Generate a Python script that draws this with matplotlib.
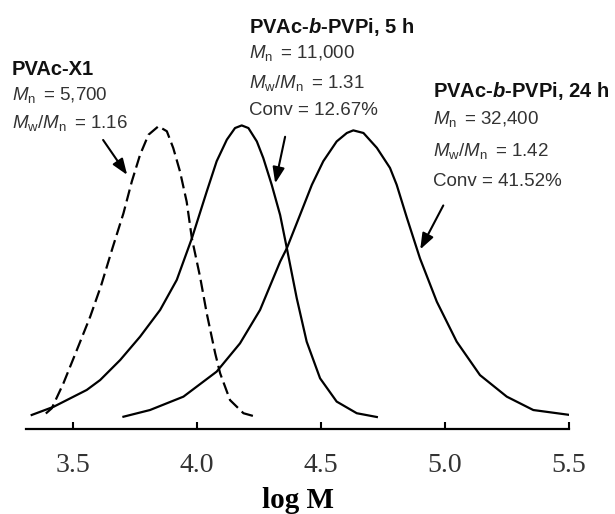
import matplotlib
matplotlib.use('Agg')
import matplotlib.pyplot as plt

# GPC traces (log M vs normalised RI signal)
x1_logm = [3.39, 3.414, 3.461, 3.515, 3.569, 3.613, 3.659, 3.703, 3.737, 3.770, 3.804,
           3.844, 3.878, 3.904, 3.931, 3.958, 3.979, 4.012, 4.039, 4.073, 4.093,
           4.133, 4.187, 4.241]
x1_signal = [0.012, 0.030, 0.116, 0.230, 0.345, 0.452, 0.581, 0.700, 0.810, 0.901, 0.970,
             0.999, 0.982, 0.924, 0.844, 0.740, 0.614, 0.482, 0.356, 0.219, 0.150,
             0.058, 0.013, 0.0]

b5_logm = [3.333, 3.421, 3.555, 3.609, 3.690, 3.770, 3.851, 3.918, 3.979, 4.039, 4.079,
           4.120, 4.153, 4.180, 4.207, 4.241, 4.267, 4.301, 4.335, 4.362, 4.402,
           4.442, 4.496, 4.563, 4.644, 4.725]
b5_signal = [0.007, 0.035, 0.093, 0.127, 0.196, 0.276, 0.368, 0.471, 0.614, 0.775, 0.879,
             0.953, 0.993, 1.002, 0.993, 0.947, 0.890, 0.798, 0.694, 0.580, 0.408,
             0.259, 0.133, 0.053, 0.013, 0.0]

b24_logm = [3.703, 3.810, 3.945, 4.079, 4.173, 4.254, 4.335, 4.362, 4.415, 4.463, 4.509,
            4.563, 4.604, 4.630, 4.671, 4.725, 4.778, 4.805, 4.846, 4.899, 4.967,
            5.047, 5.141, 5.249, 5.356, 5.504]
b24_signal = [0.001, 0.024, 0.070, 0.156, 0.253, 0.368, 0.534, 0.580, 0.694, 0.798, 0.879,
              0.947, 0.976, 0.985, 0.976, 0.925, 0.856, 0.798, 0.685, 0.545, 0.396,
              0.259, 0.144, 0.070, 0.024, 0.007]

xticks = [3.5, 4.0, 4.5, 5.0, 5.5]

W, H = 615, 514

plt.rcParams['mathtext.fontset'] = 'custom'
plt.rcParams['mathtext.rm'] = 'Liberation Sans'
plt.rcParams['mathtext.it'] = 'Liberation Sans:italic'
plt.rcParams['mathtext.bf'] = 'Liberation Sans:bold'
plt.rcParams['mathtext.bfit'] = 'Liberation Sans:italic:bold'


def put(fig, px, py, s, bold=False):
    # place text by pixel position (baseline)
    if bold:
        fig.text(px / W, 1 - py / H, s, fontsize=14.5, fontweight='bold',
                 family='Liberation Sans', color='#111111', va='baseline')
    else:
        fig.text(px / W, 1 - py / H, s, fontsize=13.5,
                 family='Liberation Sans', color='#333333', va='baseline')


def gpc_plot():
    fig = plt.figure(figsize=(W / 100, H / 100), dpi=100)
    ax = fig.add_axes([26 / W, 85 / H, 543 / W, 429 / H])

    line_kw = dict(color='black', lw=1.6, solid_joinstyle='round', dash_joinstyle='round')
    ax.plot(x1_logm, x1_signal, ls=(0, (5.5, 2.4)), **line_kw)
    ax.plot(b5_logm, b5_signal, **line_kw)
    ax.plot(b24_logm, b24_signal, **line_kw)

    ax.set_xlim(3.31, 5.5)
    ax.set_ylim(-0.0412, 1.433)
    for s in ['left', 'right', 'top']:
        ax.spines[s].set_visible(False)
    ax.spines['bottom'].set_linewidth(1.6)
    ax.set_yticks([])
    ax.set_xticks(xticks)
    ax.set_xticklabels([f'{t:.1f}' for t in xticks], family='Liberation Serif',
                       fontsize=20, color='#333333')
    ax.tick_params(axis='x', direction='in', length=5, width=1.5, pad=17)
    ax.set_xlabel('log M', family='Liberation Serif', fontweight='bold',
                  fontsize=21, labelpad=7)

    arrow = dict(arrowstyle='-|>,head_length=0.8,head_width=0.3', color='black',
                 lw=1.5, mutation_scale=12, shrinkA=0, shrinkB=0)
    ax.annotate('', xy=(3.718, 0.832), xytext=(3.621, 0.952), arrowprops=arrow)
    ax.annotate('', xy=(4.315, 0.803), xytext=(4.355, 0.963), arrowprops=arrow)
    ax.annotate('', xy=(4.900, 0.576), xytext=(4.993, 0.727), arrowprops=arrow)

    mn = r'$M_\mathrm{n}\,$'
    mw = r'$M_\mathrm{w}/M_\mathrm{n}\,$'

    # PVAc-X1
    put(fig, 12, 75, 'PVAc-X1', bold=True)
    put(fig, 12, 100, mn + ' = 5,700')
    put(fig, 12, 128, mw + ' = 1.16')

    # 5 h
    put(fig, 249, 33, r'PVAc-$\mathbfit{b}$-PVPi, 5 h', bold=True)
    put(fig, 249, 58, mn + ' = 11,000')
    put(fig, 249, 88, mw + ' = 1.31')
    put(fig, 249, 115, 'Conv = 12.67%')

    # 24 h
    put(fig, 433, 97, r'PVAc-$\mathbfit{b}$-PVPi, 24 h', bold=True)
    put(fig, 433, 124, mn + ' = 32,400')
    put(fig, 433, 156, mw + ' = 1.42')
    put(fig, 433, 186, 'Conv = 41.52%')

    fig.savefig('out.png', dpi=100)


if __name__ == '__main__':
    gpc_plot()
